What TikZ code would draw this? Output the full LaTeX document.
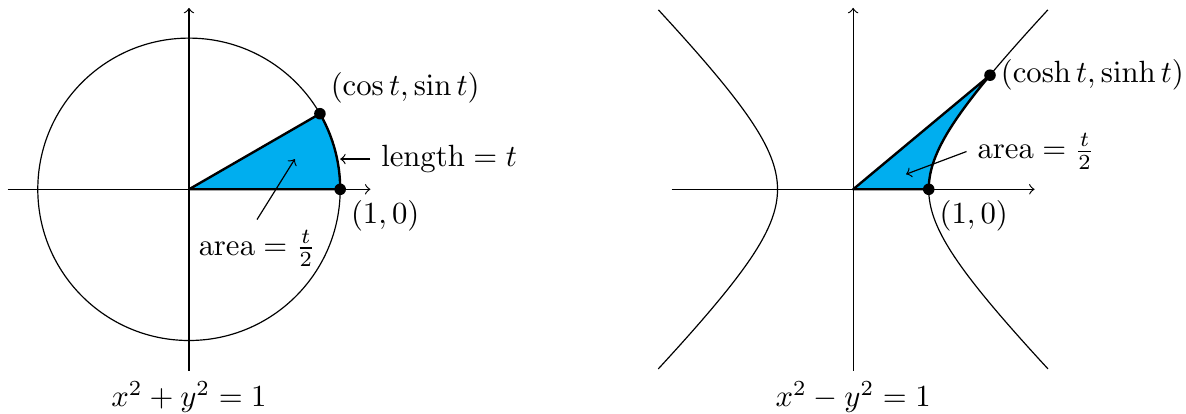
\documentclass[tikz,border=0pt]{standalone}
\usetikzlibrary{calc}
\definecolor{secfill}{RGB}{0,174,239}
\begin{document}
\begin{tikzpicture}[x=0.895cm,y=0.895cm,
  axis/.style={->,line width=0.4pt},
  curve/.style={line width=0.4pt},
  border/.style={fill=secfill,line width=0.8pt},
  dot/.style={circle,fill=black,inner sep=0pt,minimum size=3.9pt},
  pointer/.style={->,line width=0.4pt},
  lbl/.style={scale=1.035}]
\useasboundingbox (-2.5,-2.959) rectangle (13.188,2.504);
% ---------- left: circle ----------
\coordinate (O1) at (0,0);
\coordinate (P1) at (2,0);
\coordinate (Q1) at (30:2);
\fill[secfill] (O1) -- (P1) arc[start angle=0,end angle=30,radius=2] -- cycle;
\draw[axis] (-2.4,0) -- (2.4,0);
\coordinate (B1) at (0,-2.4);
\draw[axis] (B1) -- (0,2.4);
\draw[curve] (O1) circle[radius=2];
\draw[line width=0.8pt,line join=round] (O1) -- (P1) arc[start angle=0,end angle=30,radius=2] -- cycle;
\node[dot] (d1) at (P1) {};
\node[dot] (d2) at (Q1) {};
\node[lbl,above right] (cs) at (Q1) {$(\cos t,\sin t)$};
\node[lbl,below right] (p10a) at (P1) {$(1,0)$};
\coordinate (A1) at (2.0,0.4);
\node[lbl,right] (len) at (2.4,0.4) {$\mathrm{length}=t$};
\draw[pointer] (len.west) -- (A1);
\coordinate (A2) at (1.4,0.4);
\node[lbl,below] (ar1) at (0.9,-0.4) {$\mathrm{area}=\frac{t}{2}$};
\draw[pointer] (ar1.north) -- (A2);
\node[lbl,below] (eq1) at (B1) {$x^2+y^2=1$};
% ---------- right: hyperbola ----------
\begin{scope}[shift={(8.785,0)}]
\coordinate (O2) at (0,0);
\coordinate (P2) at (1,0);
\coordinate (Q2) at ({cosh(1.2)},{sinh(1.2)});
\fill[secfill] (O2) -- (P2) -- plot[domain=0:1.2,samples=40,smooth] ({cosh(\x)},{sinh(\x)}) -- cycle;
\draw[axis] (-2.4,0) -- (2.4,0);
\coordinate (B2) at (0,-2.4);
\draw[axis] (B2) -- (0,2.4);
\draw[curve] plot[domain=-1.6:1.6,samples=80,smooth] ({cosh(\x)},{sinh(\x)});
\draw[curve] plot[domain=-1.6:1.6,samples=80,smooth] ({-cosh(\x)},{sinh(\x)});
\draw[line width=0.8pt,line join=round] (O2) -- (P2) -- plot[domain=0:1.2,samples=40,smooth] ({cosh(\x)},{sinh(\x)}) -- cycle;
\node[dot] (d3) at (P2) {};
\node[dot] (d4) at (Q2) {};
\node[lbl,right] (ch) at (Q2) {$(\cosh t,\sinh t)$};
\node[lbl,below right] (p10b) at (P2) {$(1,0)$};
\coordinate (A3) at (0.7,0.2);
\node[lbl,right] (ar2) at (1.5,0.5) {$\mathrm{area}=\frac{t}{2}$};
\draw[pointer] (ar2.west) -- (A3);
\node[lbl,below] (eq2) at (B2) {$x^2-y^2=1$};
\end{scope}
\end{tikzpicture}
\end{document}
